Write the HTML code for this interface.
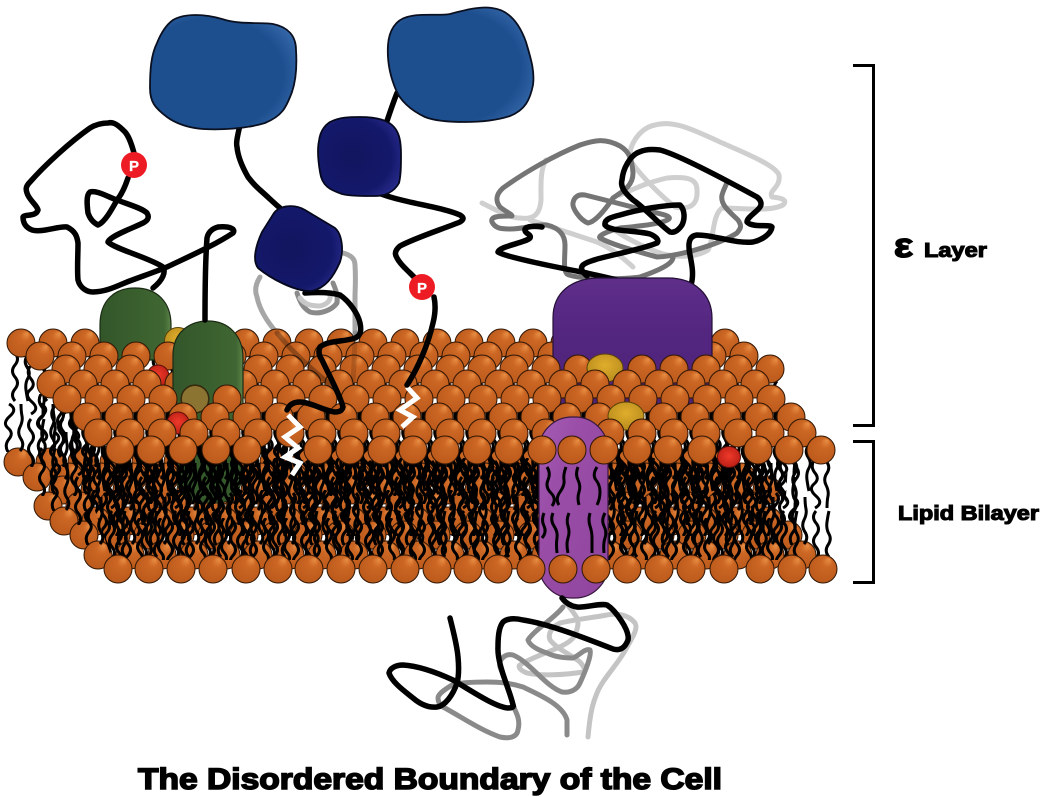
<!DOCTYPE html>
<html><head><meta charset="utf-8"><style>html,body{margin:0;padding:0;background:#fff;width:1046px;height:797px;overflow:hidden}svg{display:block}text{font-family:"Liberation Sans",sans-serif;font-weight:bold;fill:#000;stroke:#000}</style></head><body>
<svg width="1046" height="797" viewBox="0 0 1046 797" xmlns="http://www.w3.org/2000/svg">
<defs>
<radialGradient id="g" cx="0.5" cy="0.5" r="0.6" fx="0.72" fy="0.15"><stop offset="0" stop-color="#e98f45"/><stop offset="0.3" stop-color="#cc6724"/><stop offset="1" stop-color="#b9581b"/></radialGradient>
<radialGradient id="red" cx="0.5" cy="0.45" r="0.6"><stop offset="0" stop-color="#ee3a2a"/><stop offset="1" stop-color="#b81c14"/></radialGradient>
<radialGradient id="yel" cx="0.5" cy="0.4" r="0.65"><stop offset="0" stop-color="#e0ad2c"/><stop offset="1" stop-color="#b58a1c"/></radialGradient>
<radialGradient id="blue" cx="0.42" cy="0.52" r="0.68"><stop offset="0" stop-color="#1d4f8f"/><stop offset="0.72" stop-color="#1d4f8f"/><stop offset="1" stop-color="#3a6dae"/></radialGradient>
<radialGradient id="navy" cx="0.42" cy="0.5" r="0.68"><stop offset="0" stop-color="#12155e"/><stop offset="0.68" stop-color="#14186a"/><stop offset="1" stop-color="#2a2e90"/></radialGradient>
<linearGradient id="grn" x1="0" x2="1" y1="0" y2="0"><stop offset="0" stop-color="#33562a"/><stop offset="0.5" stop-color="#3a5f2e"/><stop offset="0.9" stop-color="#3f6632"/><stop offset="1" stop-color="#5d8349"/></linearGradient>
<linearGradient id="pur" x1="0" x2="0" y1="0" y2="1"><stop offset="0" stop-color="#5f2f8a"/><stop offset="0.4" stop-color="#532680"/><stop offset="1" stop-color="#4d2278"/></linearGradient>
<linearGradient id="cap" x1="0" x2="1" y1="0" y2="1"><stop offset="0" stop-color="#a55cb4"/><stop offset="0.3" stop-color="#9a4ea8"/><stop offset="1" stop-color="#8f449d"/></linearGradient>
<circle id="ball" r="14" fill="url(#g)" stroke="#2f1604"/>
<pattern id="b" patternUnits="userSpaceOnUse" width="32" height="30"><circle cx="16" cy="15" r="14" fill="url(#g)" stroke="#2f1604"/></pattern>
<pattern id="t1" patternUnits="userSpaceOnUse" width="32" height="50"><path d="M10 0q5 6 0 12t0 12t0 12t0 12M23 2q-5 6-1 12t1 11t-2 12t2 11" fill="none" stroke="#000" stroke-width="3"/></pattern>
<pattern id="t2" patternUnits="userSpaceOnUse" width="32" height="50"><path d="M6 0q-4 7 1 13t-1 11t2 12t-1 12M18 1q5 6 1 12t-1 12t2 11t-1 12" fill="none" stroke="#000" stroke-width="3"/></pattern>
<pattern id="t3" patternUnits="userSpaceOnUse" width="21" height="46"><path d="M6 0q-5 6 0 11.500t0 11.500t0 11.500t0 11.500M15 3q5 6 0 11.500t0 11.500t0 11.500t0 8" fill="none" stroke="#000" stroke-width="3"/></pattern>
<clipPath id="dense"><polygon points="68,432 790,432 782,560 112,560"/></clipPath>
</defs>
<rect width="1046" height="797" fill="#fff"/>

<!-- grey tangles -->
<g fill="none" stroke-width="5" stroke-linecap="round" stroke-linejoin="round">
<path stroke="#cfcfcf" d="M482 203C500 212 510 218 520 218C534 220 540 214 541 200C541 185 540 170 546 160M530 220C560 230 585 238 597 242C615 250 625 260 633 267M630 160C628 145 640 128 655 125C672 120 690 128 720 142C745 153 775 165 779 175C781 188 768 190 772 197C782 198 788 200 783 205C770 212 740 208 722 208C712 215 714 240 708 250C696 258 672 258 657 252C640 245 625 238 612 228M630 160C640 175 660 195 675 207C690 210 698 205 697 190C697 180 690 176 667 178C650 182 640 186 620 195"/>
<path stroke="#757575" d="M613 198C625 190 633 185 633 173C632 160 630 152 620 146C605 138 595 140 580 145C555 155 525 172 503 188C495 195 496 202 500 207C506 212 512 214 512 216C500 216 490 216 492 222C495 228 500 229 510 229C525 229 535 224 547 225C560 228 565 236 565 245C565 258 563 270 567 274C575 279 620 280 640 277C660 270 672 264 673 258M613 198C605 210 595 222 588 223C580 220 572 208 573 203C574 197 578 194 585 195C605 200 625 205 640 209C655 213 672 215 669 219C662 224 640 226 620 228C605 232 598 236 600 238C615 246 640 252 657 257C680 256 720 244 737 233C741 228 742 226 738 220C730 212 720 205 722 195C724 188 726 186 727 182"/>
<path stroke="#c4c4c4" d="M588 737C590 715 592 705 597 693C603 678 620 662 627 647C634 635 638 628 635 623C628 614 615 613 607 615C590 618 572 620 560 623C550 628 548 635 550 640C558 650 572 655 580 662C585 668 586 671 583 672C565 675 540 676 527 673C519 670 518 666 520 665C535 655 565 648 573 638C578 630 579 622 577 618C572 610 568 605 563 600"/>
<path stroke="#8a8a8a" d="M567 735C567 725 567 722 567 720C563 705 540 695 523 687C510 683 500 682 487 682C470 682 458 683 452 685C444 690 438 694 438 698C438 702 440 705 443 707C460 716 480 730 500 737C510 739 517 737 518 730C520 722 518 716 515 710C510 695 505 680 500 667C498 660 505 653 513 655C530 662 545 686 562 692C570 693 577 690 580 683C585 672 592 655 590 650C585 648 580 655 573 658C565 658 555 657 547 653C538 650 530 646 528 640C534 630 555 618 563 607"/>
<path stroke="#a6a6a6" d="M260 277C255 285 255 292 257 297C260 312 270 325 277 333"/>
<path stroke="#a6a6a6" d="M343 253C350 255 355 258 355 265C356 280 355 290 355 297C355 310 355 322 355 333"/>
<path stroke="#8a8a8a" d="M297 293C300 302 303 308 310 312C320 315 332 310 337 303C338 294 335 288 333 283"/>
<path stroke="#c8c8c8" d="M300 298C305 305 312 306 320 306C328 304 331 300 330 295"/>
</g>

<!-- black strands behind the purple protein (right tangle) -->
<g fill="none" stroke="#000" stroke-width="5.500" stroke-linecap="round" stroke-linejoin="round">
<path d="M542 227C535 226 527 226 525 229C524 234 532 234 530 238C525 243 500 246 498 252C505 257 560 268 587 273C600 276 610 278 625 282"/>
<path d="M587 276C580 270 581 267 583 265C590 258 635 252 657 243C660 240 655 236 650 234C635 230 610 232 605 225C604 219 612 217 620 215C640 209 665 205 680 205C685 210 685 219 682 225C678 231 674 233 670 232C660 225 645 208 633 200C625 193 620 187 622 180C623 168 630 157 637 153C645 149 652 149 660 150C680 155 735 185 757 197C761 200 762 204 760 207C757 212 747 217 747 222C752 228 770 224 772 227C771 234 762 240 753 242C735 244 715 235 697 235C688 236 688 245 690 255C692 265 694 275 691 285"/>
</g>

<!-- bottom layer, back rows -->
<g fill="url(#b)">
<rect width="736" height="30" transform="translate(2,447)"/>
<rect width="736" height="30" transform="translate(21,462)"/>
<rect width="736" height="30" transform="translate(47,475)"/>
<rect width="736" height="30" transform="translate(32,491)"/>
<rect width="736" height="30" transform="translate(48,506)"/>
<rect width="736" height="30" transform="translate(68,520)"/>
<rect width="736" height="30" transform="translate(82,540)"/>
</g>
<rect x="177" y="436" width="64" height="67" rx="24" fill="#355a2b" stroke="#1a2a14"/>

<!-- tails -->
<g>
<rect width="736" height="50" fill="url(#t1)" transform="translate(5,353)"/>
<rect width="736" height="50" fill="url(#t2)" transform="translate(24,366)"/>
<rect width="736" height="50" fill="url(#t1)" transform="translate(50,379)"/>
<rect width="736" height="50" fill="url(#t2)" transform="translate(35,394)"/>
<rect width="736" height="50" fill="url(#t1)" transform="translate(51,409)"/>
<rect width="736" height="50" fill="url(#t2)" transform="translate(71,427)"/>
<rect width="736" height="50" fill="url(#t1)" transform="translate(82,443)"/>
<rect width="736" height="50" fill="url(#t2)" transform="translate(104,460)"/>
<rect width="736" height="50" fill="url(#t2)" transform="translate(2,452) scale(1,-1)"/>
<rect width="736" height="50" fill="url(#t1)" transform="translate(21,467) scale(1,-1)"/>
<rect width="736" height="50" fill="url(#t2)" transform="translate(47,480) scale(1,-1)"/>
<rect width="736" height="50" fill="url(#t1)" transform="translate(32,496) scale(1,-1)"/>
<rect width="736" height="50" fill="url(#t2)" transform="translate(48,511) scale(1,-1)"/>
<rect width="736" height="50" fill="url(#t1)" transform="translate(68,525) scale(1,-1)"/>
<rect width="736" height="50" fill="url(#t2)" transform="translate(82,545) scale(1,-1)"/>
<rect width="736" height="50" fill="url(#t1)" transform="translate(102,559) scale(1,-1)"/>
</g>
<g clip-path="url(#dense)">
<rect width="760" height="46" fill="url(#t3)" transform="translate(60,458)"/>
<rect width="760" height="46" fill="url(#t3)" transform="translate(68,490)"/>
<rect width="760" height="46" fill="url(#t3)" transform="translate(50,518)"/>
</g>

<!-- top layer with proteins -->
<rect width="736" height="30" fill="url(#b)" transform="translate(5,328)"/>
<path d="M100 360V325C100 300 115 288 135 288C157 288 171 302 171 325V360Z" fill="url(#grn)" stroke="#1a2a14" stroke-width="1.2"/>
<circle cx="178" cy="341" r="13.5" fill="url(#yel)" stroke="#5a4208"/>
<rect width="736" height="30" fill="url(#b)" transform="translate(24,341)"/>
<path d="M553 412V318C553 292 572 278 600 278H668C695 278 712 295 712 318V412Z" fill="url(#pur)" stroke="#241036" stroke-width="1.2"/>
<ellipse cx="158" cy="376" rx="11" ry="11" fill="url(#red)" stroke="#5a0f0a"/>
<rect width="96" height="30" fill="url(#b)" transform="translate(50,354)"/>
<rect width="416" height="30" fill="url(#b)" transform="translate(178,354)"/>
<ellipse cx="605" cy="368" rx="18" ry="14" fill="url(#yel)" stroke="#5a4208"/>
<rect width="160" height="30" fill="url(#b)" transform="translate(626,354)"/>
<rect width="736" height="30" fill="url(#b)" transform="translate(35,369)"/>
<path d="M173 425V355C173 332 190 321 208 321C228 321 243 335 243 358V425Z" fill="url(#grn)" stroke="#1a2a14" stroke-width="1.2"/>
<rect width="736" height="30" fill="url(#b)" transform="translate(51,384)"/>
<circle cx="195" cy="399" r="13.5" fill="#8b7431" stroke="#3a2f10"/>
<rect width="544" height="30" fill="url(#b)" transform="translate(71,402)"/>
<rect width="160" height="30" fill="url(#b)" transform="translate(647,402)"/>
<ellipse cx="626" cy="416" rx="18" ry="14" fill="url(#yel)" stroke="#5a4208"/>
<circle cx="178" cy="423" r="11" fill="url(#red)" stroke="#5a0f0a"/>
<rect width="736" height="30" fill="url(#b)" transform="translate(82,418)"/>

<!-- capsule -->
<rect x="539" y="417" width="69" height="181" rx="33" fill="url(#cap)" stroke="#3a1840" stroke-width="1.2"/>
<g fill="none" stroke="#000" stroke-width="3">
<path d="M547 467q4 6 1 13t3 13t1 13M566 467q-3 8-2 13t-4 12t-1 13M578 467q-3 7 0 13t1 12t0 13M597 467q-5 8-1 13t4 12t-3 13"/>
<path d="M544 513q-3 7 0 13t-2 12M553 513q-3 7 1 13t3 12t0 15M569 513q-3 7-1 13t0 12t0 15M590 513q-2 7 0 13t2 12t0 15M605 513q-4 7-1 13t1 12t-1 15"/>
</g>

<!-- bottom front row -->
<g>
<use href="#ball" x="118" y="569"/><use href="#ball" x="149" y="569"/><use href="#ball" x="181" y="569"/><use href="#ball" x="213" y="569"/><use href="#ball" x="246" y="569"/><use href="#ball" x="278" y="569"/><use href="#ball" x="309" y="569"/><use href="#ball" x="341" y="569"/><use href="#ball" x="373" y="569"/><use href="#ball" x="405" y="569"/><use href="#ball" x="437" y="569"/><use href="#ball" x="468" y="569"/><use href="#ball" x="498" y="569"/><use href="#ball" x="531" y="569"/><use href="#ball" x="563" y="569"/><use href="#ball" x="596" y="569"/><use href="#ball" x="627" y="569"/><use href="#ball" x="659" y="569"/><use href="#ball" x="691" y="569"/><use href="#ball" x="724" y="569"/><use href="#ball" x="760" y="569"/><use href="#ball" x="792" y="569"/><use href="#ball" x="823" y="569"/>
</g>
<!-- top front row -->
<g>
<use href="#ball" x="120" y="450"/><use href="#ball" x="151" y="450"/><use href="#ball" x="183" y="450"/><use href="#ball" x="216" y="450"/><use href="#ball" x="247" y="450"/><use href="#ball" x="318" y="450"/><use href="#ball" x="350" y="450"/><use href="#ball" x="382" y="450"/><use href="#ball" x="413" y="450"/><use href="#ball" x="445" y="450"/><use href="#ball" x="477" y="450"/><use href="#ball" x="509" y="450"/><use href="#ball" x="542" y="450"/><use href="#ball" x="572" y="450"/><use href="#ball" x="604" y="450"/><use href="#ball" x="637" y="450"/><use href="#ball" x="668" y="450"/><use href="#ball" x="702" y="450"/><use href="#ball" x="758" y="450"/><use href="#ball" x="789" y="450"/><use href="#ball" x="821" y="450"/>
</g>
<ellipse cx="729" cy="457" rx="11.5" ry="10.5" fill="url(#red)" stroke="#5a0f0a"/>

<!-- translucent strands over lipids -->
<g fill="none" stroke-linecap="round" stroke-linejoin="round" stroke-width="5">
<path stroke="#000" stroke-opacity=".28" d="M277 333C295 355 315 372 333 387"/>
<path stroke="#000" stroke-opacity=".14" d="M355 333C355 350 354 365 353 380"/>
</g>

<!-- white anchors -->
<g fill="none" stroke="#fff" stroke-width="5" stroke-linejoin="miter">
<path d="M288 415L300 427L285 437L298 448L285 457L300 463L292 475"/>
<path d="M407 387L417 398L400 410L413 417L402 427"/>
</g>

<!-- black strands -->
<g fill="none" stroke="#000" stroke-width="5.500" stroke-linecap="round" stroke-linejoin="round">
<path d="M134 153C131 142 128 134 123 130C116 123 112 122 108 123C102 123 95 125 90 128C70 142 45 165 30 182C25 187 26 190 27 193C29 200 37 205 38 210C36 217 25 214 23 217C23 224 27 228 32 230C42 233 58 226 67 227C75 231 77 236 78 243C78 255 77 270 78 280C80 288 87 292 93 292C105 292 115 287 127 282C140 277 155 272 167 267C190 256 215 245 233 233C236 229 230 226 218 227C211 229 208 233 207 238C205 265 205 295 205 320"/>
<path d="M128 178C125 187 122 194 117 200C112 209 105 222 98 225C94 223 90 219 88 213C87 205 86 195 90 192C97 190 108 197 117 200C127 204 142 208 147 213C150 218 147 221 143 223C133 228 110 236 108 242C115 249 150 258 163 267C166 272 163 280 153 288"/>
<path d="M240 125C237 138 236 143 237 147C238 158 244 170 248 177C255 186 258 188 260 190C268 197 275 204 280 208"/>
<path d="M305 293C318 292 330 292 340 295C350 302 358 314 360 323C362 332 360 336 355 338C345 342 328 340 320 347C318 352 319 356 322 360C329 375 340 395 343 407C342 411 339 412 335 412C325 411 310 402 300 402C293 402 289 405 287 410"/>
<path d="M397 93C393 103 390 112 386 124"/>
<path d="M372 190C395 202 440 206 460 215C465 218 463 220 460 222C440 230 415 238 400 246C394 251 395 255 397 258C400 264 405 268 410 273C414 277 417 280 420 283"/>
<path d="M434 297C436 306 435 315 433 323C428 345 418 368 407 385"/>
<path d="M450 618C453 630 457 645 458 657C459 668 459 676 457 683C453 695 445 706 437 707C428 708 420 704 413 698C403 690 392 682 389 673C390 668 396 665 403 665C420 666 440 674 453 680C470 690 495 707 508 708C512 708 514 707 513 705C510 690 497 665 498 647C498 632 500 626 503 622C508 618 515 618 523 620C550 624 590 640 613 649C620 651 625 648 628 640C630 630 615 610 607 605C600 603 585 608 577 607C570 606 565 602 562 598"/>
</g>

<!-- globular domains -->
<path d="M173 20C185 13 205 14 222 19C240 25 260 22 273 24C288 27 296 36 296 50C297 65 296 80 292 92C286 108 282 116 265 123C245 129 220 130 203 129C188 128 175 123 167 117C155 108 150 102 150 88C150 70 151 55 157 43C161 33 166 25 173 20Z" fill="url(#blue)" stroke="#0a1020" stroke-width="1.800"/>
<path d="M407 17C420 13 440 16 450 14C465 10 480 6 492 8C510 10 520 25 526 42C530 56 535 70 533 85C530 100 525 110 510 116C495 121 480 122 465 122C450 122 435 121 425 117C410 110 400 100 396 90C390 76 387 60 388 45C389 30 396 20 407 17Z" fill="url(#blue)" stroke="#0a1020" stroke-width="1.800"/>
<path d="M330 122C340 117 350 117 360 117C372 117 385 119 392 125C400 132 401 143 401 155C401 165 401 175 399 183C394 192 385 196 375 196C362 196 350 196 342 194C330 190 322 186 320 172C318 160 317 150 319 141C320 132 324 126 330 122Z" fill="url(#navy)" stroke="#05081c" stroke-width="1.800"/>
<path d="M274 213C280 205 295 204 305 210L335 228C342 234 344 250 340 262C333 278 325 288 312 291C295 292 270 278 258 268C252 260 256 245 262 232Z" fill="url(#navy)" stroke="#05081c" stroke-width="1.800"/>

<!-- phospho -->
<circle cx="134" cy="165" r="13" fill="#ed1c24"/>
<text x="134" y="171" font-size="15" text-anchor="middle" style="fill:#fff;stroke:#fff;stroke-width:.3">P</text>
<circle cx="422" cy="287" r="13" fill="#ed1c24"/>
<text x="422" y="293" font-size="15" text-anchor="middle" style="fill:#fff;stroke:#fff;stroke-width:.3">P</text>

<!-- brackets -->
<g fill="none" stroke="#000" stroke-width="3">
<path d="M853 65.500H873.500V425.500H853"/>
<path d="M853 441.500H873.500V582.500H853"/>
</g>

<text x="894" y="257" font-size="34" stroke-width="1.500" textLength="19" lengthAdjust="spacingAndGlyphs">ε</text>
<text x="924" y="257" font-size="20" stroke-width="1.100" textLength="63" lengthAdjust="spacingAndGlyphs">Layer</text>
<text x="898" y="520" font-size="20" stroke-width="1.100" textLength="141" lengthAdjust="spacingAndGlyphs">Lipid Bilayer</text>
<text x="138" y="789" font-size="30" stroke-width="1.600" textLength="584" lengthAdjust="spacingAndGlyphs">The Disordered Boundary of the Cell</text>
</svg>
</body></html>
